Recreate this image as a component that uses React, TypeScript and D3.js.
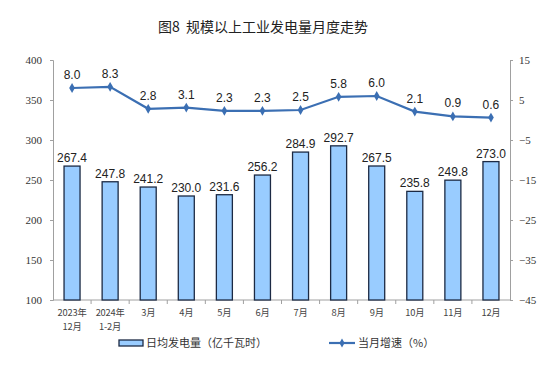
import * as d3 from "d3";
import { useEffect, useRef } from "react";

const categories = ["2023年\n12月", "2024年\n1-2月", "3月", "4月", "5月", "6月", "7月", "8月", "9月", "10月", "11月", "12月"];
const dailyOutput = [267.4, 247.8, 241.2, 230.0, 231.6, 256.2, 284.9, 292.7, 267.5, 235.8, 249.8, 273.0];
const growth = [8.0, 8.3, 2.8, 3.1, 2.3, 2.3, 2.5, 5.8, 6.0, 2.1, 0.9, 0.6];
const leftTicks = [100, 150, 200, 250, 300, 350, 400];
const rightTicks = [-45, -35, -25, -15, -5, 5, 15];

export default function App() {
  const svgRef = useRef<SVGSVGElement>(null);

  useEffect(() => {
    const svg = d3.select(svgRef.current);
    svg.selectAll("*").remove();

    const left = 53;
    const right = 510;
    const top = 60;
    const bottom = 300;

    const x = d3.scaleBand().domain(categories).range([left, right]);
    const yL = d3.scaleLinear().domain([100, 400]).range([bottom, top]);
    const yR = d3.scaleLinear().domain([-45, 15]).range([bottom, top]);
    const axisColor = "#a0a0a0";
    const numFont = "'Liberation Serif', 'Times New Roman', serif";
    const cjk = "'Noto Sans CJK SC', sans-serif";
    const cx = (i: number) => x(categories[i])! + x.bandwidth() / 2;

    // 제목
    svg
      .append("text")
      .attr("x", 263)
      .attr("y", 32)
      .attr("text-anchor", "middle")
      .attr("font-family", cjk)
      .attr("font-size", 14)
      .attr("fill", "#222")
      .text("图8\u00A0\u00A0规模以上工业发电量月度走势");

    // 왼쪽 축
    const gL = svg
      .append("g")
      .attr("transform", `translate(${left},0)`)
      .call(d3.axisLeft(yL).tickValues(leftTicks).tickSize(3).tickPadding(8));
    gL.select(".domain").attr("stroke", axisColor);
    gL.selectAll(".tick line").attr("stroke", axisColor);
    gL.selectAll(".tick text")
      .attr("font-family", numFont)
      .attr("font-size", 11)
      .attr("fill", "#333");

    // 오른쪽 축
    const gR = svg
      .append("g")
      .attr("transform", `translate(${right},0)`)
      .call(d3.axisRight(yR).tickValues(rightTicks).tickSize(3).tickPadding(6));
    gR.select(".domain").attr("stroke", axisColor);
    gR.selectAll(".tick line").attr("stroke", axisColor);
    gR.selectAll(".tick text")
      .attr("font-family", numFont)
      .attr("font-size", 11)
      .attr("fill", "#333");

    // x축
    svg
      .append("line")
      .attr("x1", left)
      .attr("x2", right)
      .attr("y1", bottom)
      .attr("y2", bottom)
      .attr("stroke", axisColor);
    svg
      .append("g")
      .selectAll("line")
      .data(categories.slice(1))
      .join("line")
      .attr("x1", (d) => x(d)!)
      .attr("x2", (d) => x(d)!)
      .attr("y1", bottom)
      .attr("y2", bottom + 4)
      .attr("stroke", axisColor);

    // x축 라벨: 줄마다 따로 text
    const labelLines = categories.flatMap((d, i) =>
      d.split("\n").map((t, j) => ({ t, i, j }))
    );
    svg
      .append("g")
      .selectAll("text")
      .data(labelLines)
      .join("text")
      .attr("x", (d) => cx(d.i))
      .attr("y", (d) => 316 + d.j * 13.5)
      .attr("text-anchor", "middle")
      .attr("font-family", cjk)
      .attr("font-size", 9.3)
      .attr("letter-spacing", -0.2)
      .attr("fill", "#444")
      .text((d) => d.t);

    // 막대
    const bw = 16;
    svg
      .append("g")
      .selectAll("rect")
      .data(dailyOutput)
      .join("rect")
      .attr("x", (_, i) => cx(i) - bw / 2)
      .attr("y", (d) => yL(d))
      .attr("width", bw)
      .attr("height", (d) => bottom - yL(d))
      .attr("fill", "#99ccff")
      .attr("stroke", "#1c2a44")
      .attr("stroke-width", 1.3);

    svg
      .append("g")
      .selectAll("text")
      .data(dailyOutput)
      .join("text")
      .attr("x", (_, i) => cx(i))
      .attr("y", (d) => yL(d) - 4)
      .attr("text-anchor", "middle")
      .attr("font-family", "'Liberation Sans', Arial, sans-serif")
      .attr("font-size", 12)
      .attr("fill", "#222")
      .text((d) => d.toFixed(1));

    // 꺾은선
    const line = d3
      .line<number>()
      .x((_, i) => cx(i))
      .y((d) => yR(d));
    svg
      .append("path")
      .datum(growth)
      .attr("d", line)
      .attr("fill", "none")
      .attr("stroke", "#3b6fb3")
      .attr("stroke-width", 2.2);
    svg
      .append("g")
      .selectAll("path")
      .data(growth)
      .join("path")
      .attr("d", d3.symbol(d3.symbolDiamond, 28)())
      .attr("transform", (d, i) => `translate(${cx(i)},${yR(d)})`)
      .attr("fill", "#3b6fb3");
    svg
      .append("g")
      .selectAll("text")
      .data(growth)
      .join("text")
      .attr("x", (_, i) => cx(i))
      .attr("y", (d) => yR(d) - 9)
      .attr("text-anchor", "middle")
      .attr("font-family", "'Liberation Sans', Arial, sans-serif")
      .attr("font-size", 12)
      .attr("fill", "#222")
      .text((d) => d.toFixed(1));

    // 범례
    svg
      .append("rect")
      .attr("x", 119)
      .attr("y", 340)
      .attr("width", 24)
      .attr("height", 6)
      .attr("fill", "#99ccff")
      .attr("stroke", "#1c2a44")
      .attr("stroke-width", 1.3);
    svg
      .append("text")
      .attr("x", 146)
      .attr("y", 347)
      .attr("font-family", cjk)
      .attr("font-size", 11)
      .attr("fill", "#333")
      .text("日均发电量（亿千瓦时）");
    svg
      .append("line")
      .attr("x1", 329)
      .attr("x2", 355)
      .attr("y1", 343)
      .attr("y2", 343)
      .attr("stroke", "#3b6fb3")
      .attr("stroke-width", 2.2);
    svg
      .append("path")
      .attr("d", d3.symbol(d3.symbolDiamond, 24)())
      .attr("transform", "translate(342,343)")
      .attr("fill", "#3b6fb3");
    svg
      .append("text")
      .attr("x", 358)
      .attr("y", 347)
      .attr("font-family", cjk)
      .attr("font-size", 11)
      .attr("fill", "#333")
      .text("当月增速（%）");
  }, []);

  return (
    <svg
      ref={svgRef}
      width={558}
      height={367}
      style={{ position: "absolute", left: 0, top: 0, background: "#fff" }}
    ></svg>
  );
}
